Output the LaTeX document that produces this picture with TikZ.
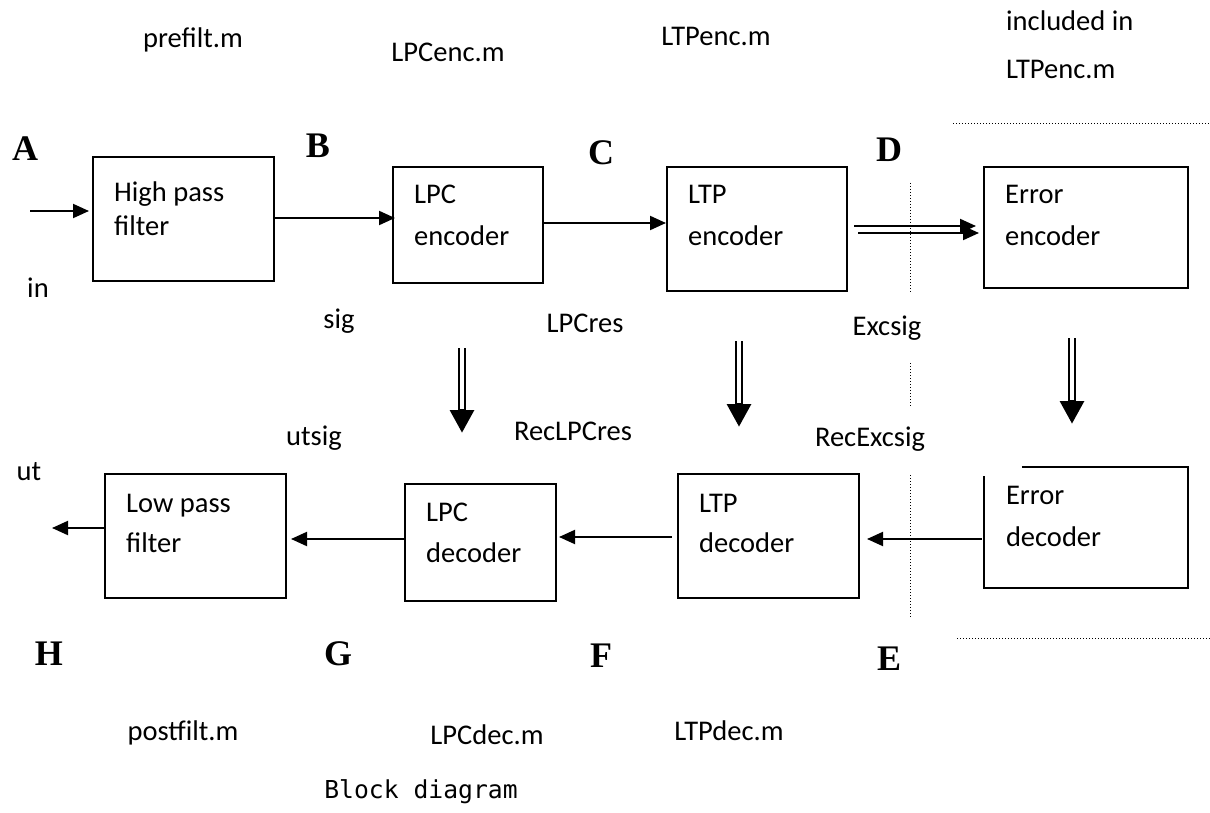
\documentclass[tikz,border=0pt]{standalone}
\usepackage{fontspec}
\setmainfont{Carlito}
\newfontfamily\letterfont{Liberation Serif}
\newfontfamily\codefont{DejaVu Sans Mono}
\usetikzlibrary{arrows.meta}

\tikzset{
	blk/.style={draw, line width=2pt, inner sep=0pt},
	txt/.style={font=\fontsize{28.5}{34}\selectfont, inner sep=0pt, anchor=base west},
	lbl/.style={font=\fontsize{28.5}{34}\selectfont, inner sep=0pt, anchor=base},
	pt/.style={font=\fontsize{36}{40}\selectfont\letterfont\bfseries, inner sep=0pt, anchor=base},
	sigarr/.style={line width=2pt, -{Triangle[length=16pt,width=14pt]}},
	pararr/.style={line width=8pt, -{Triangle[length=23pt,width=23pt]},
		postaction={draw=white, line width=4pt, -, shorten >=24pt}},
	sep/.style={line width=1pt, dash pattern=on 1pt off 2pt}
}

\begin{document}
\begin{tikzpicture}[x=1pt,y=-1pt]
	\useasboundingbox (0,0) rectangle (1210,813);

	% file names
	\node[lbl] (prefilt) at (193,48) {prefilt.m};
	\node[lbl] (lpcenc) at (448,62) {LPCenc.m};
	\node[lbl] (ltpenc) at (716,46) {LTPenc.m};
	\node[txt] (incl) at (1006,31) {included in};
	\node[txt] (incl2) at (1006,79) {LTPenc.m};
	\node[lbl] (postfilt) at (183,740) {postfilt.m};
	\node[lbl] (lpcdec) at (487,744) {LPCdec.m};
	\node[lbl] (ltpdec) at (729,740) {LTPdec.m};

	% points A..H
	\node[pt] (A) at (25,161) {A};
	\node[pt] (B) at (318,158) {B};
	\node[pt] (C) at (601,165) {C};
	\node[pt] (D) at (889,162) {D};
	\node[pt] (H) at (49,665) {H};
	\node[pt] (G) at (338,665) {G};
	\node[pt] (F) at (601,667) {F};
	\node[pt] (E) at (889,670) {E};

	% encoder chain
	\node[blk, minimum width=181pt, minimum height=124pt] (hpf) at (183.5,219) {};
	\node[blk, minimum width=150pt, minimum height=116pt] (lpce) at (468,225) {};
	\node[blk, minimum width=180pt, minimum height=124pt] (ltpe) at (757,229) {};
	\node[blk, minimum width=204pt, minimum height=121pt] (erre) at (1086,227.5) {};
	\node[txt] (hpf1) at ([xshift=22pt,yshift=-46pt]hpf.north west) {High pass};
	\node[txt] (hpf2) at ([xshift=22pt,yshift=-80pt]hpf.north west) {filter};
	\node[txt] (lpce1) at ([xshift=22pt,yshift=-38pt]lpce.north west) {LPC};
	\node[txt] (lpce2) at ([xshift=22pt,yshift=-79pt]lpce.north west) {encoder};
	\node[txt] (ltpe1) at ([xshift=22pt,yshift=-38pt]ltpe.north west) {LTP};
	\node[txt] (ltpe2) at ([xshift=22pt,yshift=-79pt]ltpe.north west) {encoder};
	\node[txt] (erre1) at ([xshift=22pt,yshift=-38pt]erre.north west) {Error};
	\node[txt] (erre2) at ([xshift=22pt,yshift=-79pt]erre.north west) {encoder};

	% decoder chain
	\node[blk, minimum width=181pt, minimum height=124pt] (lpf) at (195.5,536) {};
	\node[blk, minimum width=151pt, minimum height=117pt] (lpcd) at (480.5,542.5) {};
	\node[blk, minimum width=181pt, minimum height=124pt] (ltpd) at (768.5,536) {};
	\node[minimum width=204pt, minimum height=121pt, inner sep=0pt] (errd) at (1086,527.5) {};
	\draw[line width=2pt] ([xshift=38pt]errd.north west) -- (errd.north east)
		-- (errd.south east) -- (errd.south west) -- ([yshift=-9pt]errd.north west);
	\node[txt] (lpf1) at ([xshift=22pt,yshift=-39pt]lpf.north west) {Low pass};
	\node[txt] (lpf2) at ([xshift=22pt,yshift=-79pt]lpf.north west) {filter};
	\node[txt] (lpcd1) at ([xshift=22pt,yshift=-38pt]lpcd.north west) {LPC};
	\node[txt] (lpcd2) at ([xshift=22pt,yshift=-79pt]lpcd.north west) {decoder};
	\node[txt] (ltpd1) at ([xshift=22pt,yshift=-39pt]ltpd.north west) {LTP};
	\node[txt] (ltpd2) at ([xshift=22pt,yshift=-79pt]ltpd.north west) {decoder};
	\node[txt] (errd1) at ([xshift=22pt,yshift=-38pt]errd.north west) {Error};
	\node[txt] (errd2) at ([xshift=22pt,yshift=-80pt]errd.north west) {decoder};

	% signal names
	\node[lbl] (in) at (38,297) {in};
	\node[lbl] (sig) at (339,328) {sig};
	\node[lbl] (lpcres) at (585,332) {LPCres};
	\node[lbl] (excsig) at (887,335) {Excsig};
	\node[lbl] (utsig) at (314,445) {utsig};
	\node[lbl] (reclpcres) at (573,440) {RecLPCres};
	\node[lbl] (recexcsig) at (870,446) {RecExcsig};
	\node[lbl] (ut) at (29,480) {ut};

	% forward path
	\coordinate (src) at (30,211);
	\coordinate (dst) at (52,528);
	\draw[sigarr, shorten >=3pt] (src) -- ([yshift=8pt]hpf.west);
	\draw[sigarr] ([yshift=1pt]hpf.east) -- ([xshift=3pt,yshift=7pt]lpce.west);
	\draw[sigarr] ([yshift=2pt]lpce.east) -- ([yshift=6pt]ltpe.west);
	\draw[sigarr] ([xshift=6pt,yshift=3pt]ltpe.east) -- ([xshift=-7pt,yshift=1.5pt]erre.west);
	\draw[sigarr] ([xshift=10pt,yshift=-4pt]ltpe.east) -- ([xshift=-4pt,yshift=-5.5pt]erre.west);

	% backward path
	\draw[sigarr] ([xshift=-2pt,yshift=-11.5pt]errd.west) -- ([xshift=7pt,yshift=-3pt]ltpd.east);
	\draw[sigarr] ([xshift=-5pt,yshift=-1pt]ltpd.west) -- ([xshift=2pt,yshift=5.5pt]lpcd.east);
	\draw[sigarr] ([yshift=3.5pt]lpcd.west) -- ([xshift=4pt,yshift=-3pt]lpf.east);
	\draw[sigarr] ([yshift=8pt]lpf.west) -- (dst);

	% parameters down to the decoders
	\coordinate (lpcup) at (462,348);
	\coordinate (lpcdn) at (462,433);
	\coordinate (ltpup) at (739,341);
	\coordinate (ltpdn) at (739,427);
	\coordinate (errup) at (1072,338);
	\coordinate (errdn) at (1072,424);
	\draw[pararr] (lpcup) -- (lpcdn);
	\draw[pararr] (ltpup) -- (ltpdn);
	\draw[pararr] (errup) -- (errdn);

	% channel borders
	\draw[sep] (953,124) -- (1210,124);
	\draw[sep] (957,638) -- (1210,638);
	\draw[sep] (910,183) -- (910,293);
	\draw[sep] (910,363) -- (910,406);
	\draw[sep] (910,475) -- (910,617);

	\node[inner sep=0pt, anchor=base, font=\fontsize{24.7}{28}\selectfont\codefont] (title) at (421,798) {Block diagram};
\end{tikzpicture}
\end{document}
